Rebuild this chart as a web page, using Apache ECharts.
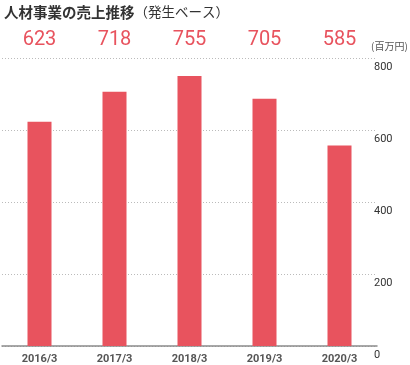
<!DOCTYPE html>
<html><head><meta charset="utf-8">
<script src="https://cdn.jsdelivr.net/npm/echarts@6/dist/echarts.min.js"></script>
<style>html,body{margin:0;padding:0;background:#fff}#c{width:410px;height:365px}</style>
</head><body><div id="c"></div>
<script>
var categories = ['2016/3', '2017/3', '2018/3', '2019/3', '2020/3'];
var salesLabels = ['623', '718', '755', '705', '585'];
var barValues = [623, 706, 750, 687, 557];
var yTicks = [0, 200, 400, 600, 800];
var unitLabel = '(百万円)';
var titleMain = '人材事業の売上推移';
var titleSub = '（発生ベース）';

var chart = echarts.init(document.getElementById('c'), null, {renderer: 'canvas'});
var font = '"Noto Sans CJK JP", "Noto Sans", sans-serif';
chart.setOption({
  animation: false,
  backgroundColor: '#fff',
  title: {
    text: '{a|' + titleMain + '}{b|' + titleSub + '}',
    left: -1, top: 0,
    textStyle: {
      rich: {
        a: {fontSize: 14.5, fontWeight: 'bold', color: '#333', fontFamily: font},
        b: {fontSize: 13.5, fontWeight: 'normal', color: '#333', fontFamily: font}
      }
    }
  },
  graphic: [{
    type: 'text', left: 371, top: 41,
    style: {text: unitLabel, fontSize: 10, fill: '#555', fontFamily: font}
  }],
  grid: {left: 2, right: 33, top: 58, bottom: 17},
  xAxis: [{
    type: 'category', data: categories, position: 'bottom',
    axisLine: {show: true, lineStyle: {color: '#8a8a8a', width: 1.5}},
    axisTick: {show: false},
    axisLabel: {color: '#555', fontSize: 11, fontWeight: 'bold', margin: 8, fontFamily: 'Roboto, sans-serif'}
  }, {
    type: 'category', data: salesLabels, position: 'top',
    axisLine: {show: false}, axisTick: {show: false},
    axisLabel: {color: '#e8535e', fontSize: 20, margin: 8, fontFamily: 'Roboto, sans-serif'}
  }],
  yAxis: {
    type: 'value', position: 'right', min: yTicks[0], max: yTicks[yTicks.length - 1], interval: 200,
    axisLine: {show: false}, axisTick: {show: false},
    splitLine: {show: true, lineStyle: {color: '#bbb', type: [1, 2], width: 1}},
    axisLabel: {color: '#333', fontSize: 11, margin: -3, align: 'left', verticalAlign: 'top', padding: [4,0,0,0], fontFamily: 'Roboto, sans-serif'}
  },
  series: [{
    type: 'bar', data: barValues, barWidth: 24, xAxisIndex: 0,
    itemStyle: {color: '#e8535e'}
  }]
});
</script></body></html>
